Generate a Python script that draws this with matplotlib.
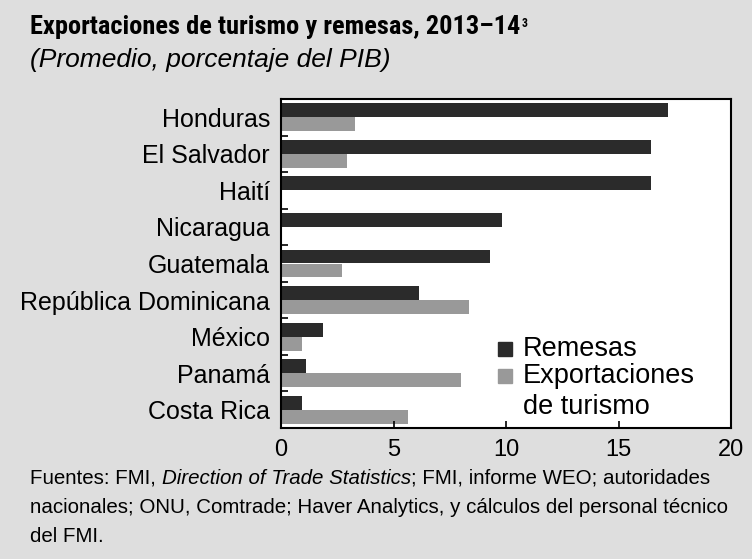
import numpy as np
import matplotlib.pyplot as plt
from matplotlib.patches import Rectangle

paises = ['Honduras', 'El Salvador', 'Haití', 'Nicaragua', 'Guatemala',
          'República Dominicana', 'México', 'Panamá', 'Costa Rica']
remesas = [17.2, 16.45, 16.45, 9.8, 9.3, 6.15, 1.85, 1.1, 0.95]
turismo = [3.3, 2.95, 0.0, 0.0, 2.7, 8.35, 0.95, 8.0, 5.65]
xticks = [0, 5, 10, 15, 20]
series = ['Remesas', 'Exportaciones']
colores = ['#2b2b2b', '#999999']

plt.rcParams['font.family'] = ['Liberation Sans', 'DejaVu Sans']
titulo_font = ['Roboto Condensed', 'Liberation Sans', 'DejaVu Sans']

bg = '#dedede'
fig = plt.figure(figsize=(7.52, 5.59), dpi=100, facecolor=bg)
ax = fig.add_axes([281 / 752, 1 - 428 / 559, 450 / 752, 329 / 559])
ax.set_facecolor('white')

y = np.arange(len(paises))
h = 0.38
ax.barh(y - h / 2, remesas, height=h, color=colores[0])
ax.barh(y + h / 2, turismo, height=h, color=colores[1])

ax.set_ylim(len(paises) - 0.5, -0.5)
ax.set_xlim(0, 20)
ax.set_xticks(xticks)
ax.set_yticks(y)
ax.set_yticklabels(paises, fontsize=18)
ax.tick_params(axis='y', length=0, pad=8)
ax.set_yticks(np.arange(len(paises) - 1) + 0.5, minor=True)
ax.tick_params(axis='y', which='minor', direction='in', length=5, width=1.2)
ax.tick_params(axis='x', direction='in', length=5, width=1.2, labelsize=17, pad=8)
for s in ax.spines.values():
    s.set_linewidth(1.5)

# leyenda
for i, (lab, c) in enumerate(zip(series, colores)):
    yb = [0.219, 0.137][i]
    ax.add_patch(Rectangle((0.482, yb), 0.031, 0.042, color=c, transform=ax.transAxes))
    ax.text(0.538, yb, lab, fontsize=19.5, transform=ax.transAxes, va='baseline')
ax.text(0.538, 0.043, 'de turismo', fontsize=19.5, transform=ax.transAxes, va='baseline')

t = fig.text(30 / 752, 1 - 34 / 559, 'Exportaciones de turismo y remesas, 2013–14',
             fontsize=19, fontweight='bold', family=titulo_font, va='baseline')
ax.annotate('3', xy=(1, 0.9), xycoords=t, fontsize=8.5, fontweight='bold', va='top',
            family=titulo_font, xytext=(1, 0), textcoords='offset points')
fig.text(30 / 752, 1 - 67 / 559, '(Promedio, porcentaje del PIB)', fontsize=19,
         style='italic', va='baseline')

fs = 14.8
l1 = fig.text(30 / 752, 1 - 484 / 559, 'Fuentes: FMI, ', fontsize=fs, va='baseline')
l1b = ax.annotate('Direction of Trade Statistics', xy=(1, 0), xycoords=l1, va='bottom',
                  fontsize=fs, style='italic')
ax.annotate('; FMI, informe WEO; autoridades', xy=(1, 0), xycoords=l1b, va='bottom',
            fontsize=fs)
fig.text(30 / 752, 1 - 513 / 559,
         'nacionales; ONU, Comtrade; Haver Analytics, y cálculos del personal técnico',
         fontsize=fs, va='baseline')
fig.text(30 / 752, 1 - 542 / 559, 'del FMI.', fontsize=fs, va='baseline')

fig.savefig('out.png', dpi=100, facecolor=bg)
